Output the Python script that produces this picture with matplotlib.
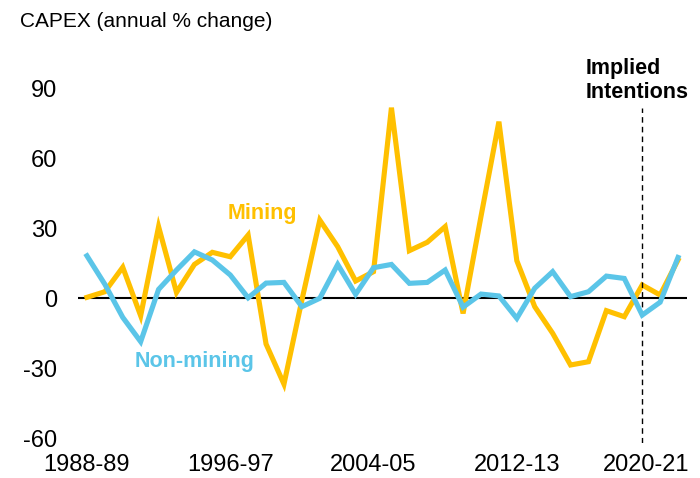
import matplotlib.pyplot as plt
import matplotlib.transforms as mtransforms

plt.rcParams['font.family'] = ['Liberation Sans', 'DejaVu Sans']

# Financial years 1988-89 .. 2021-22
years = [f'{y}-{str(y + 1)[-2:]}' for y in range(1988, 2022)]

mining = [0.3, 2.7, 13.2, -7.6, 30.6, 2.4, 14.4, 19.6, 17.7, 27.0,
          -19.7, -36.9, -0.9, 33.4, 22.0, 7.3, 11.3, 81.6, 20.3, 23.9,
          30.6, -6.6, 35.0, 75.6, 16.0, -3.7, -15.1, -28.7, -27.3, -5.4,
          -8.0, 5.6, 1.3, 16.3]
non_mining = [18.1, 5.9, -8.3, -18.7, 3.7, 12.0, 19.8, 16.3, 9.9, 0.1,
              6.4, 6.7, -3.7, -0.1, 14.4, 1.6, 13.0, 14.4, 6.3, 6.7,
              12.0, -3.9, 1.7, 0.9, -8.7, 4.2, 11.3, 0.6, 2.7, 9.4,
              8.4, -7.3, -1.8, 17.4]

tick_years = ['1988-89', '1996-97', '2004-05', '2012-13', '2020-21']
y_ticks = [90, 60, 30, 0, -30, -60]
intentions_start = '2019-20'

c_mining = '#FFC000'
c_non = '#5BC5E8'

x = list(range(len(years)))

fig = plt.figure(figsize=(7, 4.78), dpi=100)
ax = fig.add_axes([0.1114, 0.0739, 0.870, 0.7516])

ax.axhline(0, color='black', lw=1.5, zorder=1)
ax.plot(x, mining, color=c_mining, lw=3.7, zorder=2, solid_joinstyle='miter')
ax.plot(x, non_mining, color=c_non, lw=3.7, zorder=3, solid_joinstyle='miter')

xi = years.index(intentions_start)
ax.vlines(xi, -62, 81.5, colors='black', linestyles=(0, (4, 3)), lw=1)

ax.set_xlim(-0.5, len(years) - 0.5)
ax.set_ylim(-62, 92)
ax.set_yticks(y_ticks)
ax.set_yticklabels([str(v) for v in y_ticks])
ax.set_xticks([years.index(t) for t in tick_years])
ax.set_xticklabels(tick_years)
ax.tick_params(axis='both', length=0, labelsize=17)
ax.tick_params(axis='y', pad=15)
ax.tick_params(axis='x', pad=8)
for s in ax.spines.values():
    s.set_visible(False)

# last label is pushed left so it stays inside the picture
last = ax.get_xticklabels()[-1]
last.set_transform(last.get_transform() + mtransforms.ScaledTranslation(-0.14, 0, fig.dpi_scale_trans))

fig.text(0.029, 0.954, 'CAPEX (annual % change)', fontsize=15, va='center', ha='left')
fig.text(0.836, 0.832, 'Implied\nIntentions', fontsize=15.5, fontweight='bold',
         va='center', ha='left', linespacing=1.22)
ax.text(9.8, 36.4, 'Mining', color=c_mining, fontsize=15.5, fontweight='bold', ha='center', va='center')
ax.text(6.0, -27.4, 'Non-mining', color=c_non, fontsize=15.5, fontweight='bold', ha='center', va='center')

fig.savefig('out.png', dpi=100)
